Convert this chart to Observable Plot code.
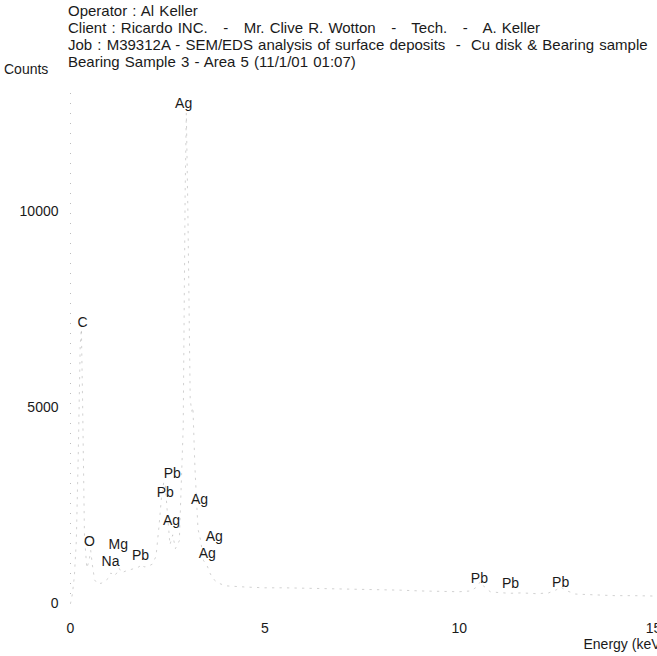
<!DOCTYPE html>
<html>
<head>
<meta charset="utf-8">
<script src="https://cdn.jsdelivr.net/npm/d3@7"></script>
<script src="https://cdn.jsdelivr.net/npm/@observablehq/plot@0.6"></script>
<style>
  html, body { margin: 0; padding: 0; background: #fff; overflow: hidden; }
  #wrap { position: relative; width: 657px; height: 656px; overflow: hidden; font-family: "Liberation Sans", Arial, sans-serif; color: #1a1a1a; }
  #header { position: relative; height: 75px; font-size: 15px; line-height: 17px; }
  #header .lines { position: absolute; left: 68px; top: 2px; white-space: pre; word-spacing: 1px; }
  #header .ylab { position: absolute; left: 4px; top: 61px; font-size: 14px; }
  #chart svg { display: block; }
</style>
</head>
<body>
<div id="wrap">
  <div id="header">
    <div class="lines" id="hlines"></div>
    <div class="ylab" id="ylab"></div>
  </div>
  <div id="chart"></div>
</div>
<script>
// ---- header text ----
const headerLines = [
  "Operator : Al Keller",
  "Client : Ricardo INC.   -   Mr. Clive R. Wotton   -   Tech.   -   A. Keller",
  "Job : M39312A - SEM/EDS analysis of surface deposits  -  Cu disk & Bearing sample",
  "Bearing Sample 3 - Area 5 (11/1/01 01:07)"
];
const yAxisLabel = "Counts";
const xAxisLabel = "Energy (keV)";

// ---- tick labels ----
const xTicks = [0, 5, 10, 15];
const yTicks = [0, 5000, 10000];

// ---- spectrum (energy keV, counts) ----
const energy = [0.00,0.05,0.10,0.15,0.20,0.25,0.28,0.31,0.36,0.42,0.48,0.52,0.56,0.62,0.70,0.80,0.90,0.98,1.04,1.10,1.18,1.25,1.32,1.40,1.50,1.60,1.70,1.80,1.84,1.90,2.00,2.10,2.20,2.28,2.34,2.40,2.44,2.50,2.56,2.63,2.70,2.80,2.90,2.95,2.98,3.02,3.08,3.12,3.15,3.20,3.28,3.35,3.42,3.52,3.60,3.70,3.80,4.00,4.50,5.00,5.50,6.00,6.50,7.00,7.50,8.00,8.50,9.00,9.50,10.00,10.30,10.45,10.55,10.65,10.80,11.00,11.30,11.60,12.00,12.30,12.50,12.61,12.75,13.00,13.50,14.00,14.50,15.00];
const counts = [0,250,700,1600,3800,6600,7000,5200,1700,900,1100,1350,1000,600,500,520,580,650,780,700,760,900,780,820,850,880,900,960,1000,930,950,1000,1200,2000,2700,3100,3000,2200,1500,1750,1400,1600,4500,10500,12500,10000,5200,4900,5000,3500,1900,1600,1100,950,750,600,520,450,420,400,400,390,380,370,360,350,340,320,310,300,320,420,560,420,300,280,260,270,250,270,350,420,330,240,220,200,200,190];

// ---- peak labels (text, energy, counts of label centre) ----
const peakText   = ["Ag","C","Pb","Pb","Ag","Ag","Ag","Ag","O","Mg","Na","Pb","Pb","Pb","Pb"];
const peakEnergy = [2.91,0.31,2.62,2.44,3.32,2.60,3.70,3.52,0.49,1.23,1.03,1.80,10.52,11.32,12.61];
const peakCounts = [12745,7163,3314,2830,2651,2116,1708,1275,1580,1504,1071,1224,637,510,535];

document.getElementById("hlines").textContent = headerLines.join("\n");
document.getElementById("ylab").textContent = yAxisLabel;

const spectrum = energy.map((e, i) => ({energy: e, counts: counts[i]}));
const peaks = peakText.map((t, i) => ({label: t, energy: peakEnergy[i], counts: peakCounts[i]}));

const chart = Plot.plot({
  width: 657,
  height: 581,
  marginLeft: 70,
  marginRight: 4,
  marginTop: 18,
  marginBottom: 53,
  style: {fontFamily: "'Liberation Sans', Arial, sans-serif", fontSize: "14px", color: "#1a1a1a", background: "#fff", overflow: "hidden"},
  x: {domain: [0, 15], ticks: xTicks, tickFormat: d3.format("d"), tickSize: 0, tickPadding: 20, label: null},
  y: {domain: [0, 13000], ticks: yTicks, tickFormat: d3.format("d"), tickSize: 0, tickPadding: 12, label: null},
  marks: [
    Plot.ruleX([0], {stroke: "#bbb", strokeDasharray: "1,9", strokeWidth: 1}),
    Plot.line(spectrum, {x: "energy", y: "counts", stroke: "#999", strokeWidth: 1, strokeOpacity: 0.45, strokeDasharray: "1.5,6"}),
    Plot.text(peaks, {x: "energy", y: "counts", text: "label", fontSize: 14, fill: "#1a1a1a"}),
    Plot.text([xAxisLabel], {frameAnchor: "bottom-right", textAnchor: "start", dx: -70, dy: 45, fontSize: 14, fill: "#1a1a1a"})
  ]
});
document.getElementById("chart").appendChild(chart);
</script>
</body>
</html>
